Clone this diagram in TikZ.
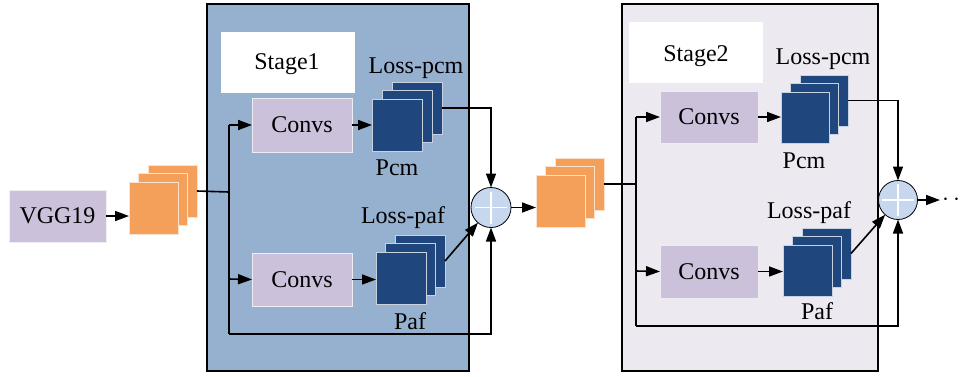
\documentclass[tikz,border=0pt]{standalone}
\usepackage{fontspec}
\setmainfont{Liberation Serif}
\usetikzlibrary{arrows.meta,calc}

\definecolor{stageoneblue}{HTML}{96B0D0}
\definecolor{stagetwogrey}{HTML}{EDE9F1}
\definecolor{convlilac}{HTML}{CBC1DA}
\definecolor{featorange}{HTML}{F5A05A}
\definecolor{mapnavy}{HTML}{1F467D}
\definecolor{sumblue}{HTML}{C6D7EE}

\tikzset{
  stagebox/.style={draw=black, line width=2.5pt},
  titlebox/.style={fill=white, draw=none, inner sep=0pt, outer sep=0pt, anchor=north west},
  convbox/.style={fill=convlilac, draw=white!70!convlilac, line width=0.8pt,
    inner sep=0pt, outer sep=0pt, anchor=north west, font=\fontsize{24}{28}\selectfont},
  orangesheet/.style={fill=featorange, draw=white!70!featorange, line width=0.9pt,
    inner sep=0pt, outer sep=0pt, anchor=north west, minimum width=49pt, minimum height=52pt},
  navysheet/.style={fill=mapnavy, draw=white!75!mapnavy, line width=0.9pt,
    inner sep=0pt, outer sep=0pt, anchor=north west, minimum width=50pt, minimum height=52pt},
  sumnode/.style={circle, fill=sumblue, draw=black, line width=0.8pt,
    minimum size=40pt, inner sep=0pt, outer sep=0pt},
  lbl/.style={font=\fontsize{24}{28}\selectfont, inner sep=0pt, anchor=base},
  wire/.style={line width=1.6pt, black},
  arr/.style={wire, -{Triangle[length=14pt,width=10pt]}},
}

\newcommand{\plussign}[1]{%
  \draw[white, line width=1.6pt] ($(#1)+(-16,0)$) -- ($(#1)+(16,0)$);
  \draw[white, line width=1.6pt] ($(#1)+(0,-16)$) -- ($(#1)+(0,16)$);
}

\begin{document}
\begin{tikzpicture}[x=1pt, y=-1pt]
\useasboundingbox (0,0) rectangle (960,376);

% ---------- stage frames ----------
\fill[stageoneblue] (207,4) rectangle (469,371);
\draw[stagebox] (207,4) rectangle (469,371);
\fill[stagetwogrey] (622,4) rectangle (878,371);
\draw[stagebox] (622,4) rectangle (878,371);

\node[titlebox, minimum width=134pt, minimum height=61pt] (s1title) at (221,32) {};
\node[titlebox, minimum width=134pt, minimum height=61pt] (s2title) at (629,22) {};
\node[lbl] (s1text) at (287,69) {Stage1};
\node[lbl] (s2text) at (696,61) {Stage2};

% ---------- backbone ----------
\node[convbox, minimum width=97pt, minimum height=52pt] (vgg) at (9,190) {VGG19};

% input feature maps
\node[orangesheet] (in1b) at (148,165) {};
\node[orangesheet] (in1m) at (138.5,173.5) {};
\node[orangesheet] (in1f) at (129,182) {};

% ---------- stage 1 ----------
\node[convbox, minimum width=100pt, minimum height=54pt] (c1a) at (252,98) {Convs};
\node[convbox, minimum width=100pt, minimum height=53pt] (c1b) at (252,253) {Convs};

\node[navysheet] (p1b) at (392,82) {};
\node[navysheet] (p1m) at (382,90.5) {};
\node[navysheet] (p1f) at (372,99) {};

\node[navysheet] (f1b) at (395,235) {};
\node[navysheet] (f1m) at (385.5,243.5) {};
\node[navysheet] (f1f) at (376,252) {};

\node[lbl] (lp1) at (416,73) {Loss-pcm};
\node[lbl] (pc1) at (397,175) {Pcm};
\node[lbl] (lf1) at (403,223) {Loss-paf};
\node[lbl] (pa1) at (410,329) {Paf};

\node[sumnode] (sum1) at (491,207.5) {};
\plussign{sum1}

% ---------- features between stages ----------
\node[orangesheet] (in2b) at (555,158) {};
\node[orangesheet] (in2m) at (545.5,166.5) {};
\node[orangesheet] (in2f) at (536,175) {};

% ---------- stage 2 ----------
\node[convbox, minimum width=98pt, minimum height=52pt] (c2a) at (660,91) {Convs};
\node[convbox, minimum width=98pt, minimum height=53pt] (c2b) at (660,245) {Convs};

\node[navysheet, minimum width=48pt, minimum height=51pt] (p2b) at (800,75) {};
\node[navysheet, minimum width=48pt, minimum height=51pt] (p2m) at (790.5,83.5) {};
\node[navysheet, minimum width=48pt, minimum height=51pt] (p2f) at (781,92) {};

\node[navysheet, minimum width=49pt, minimum height=51pt] (f2b) at (802,228) {};
\node[navysheet, minimum width=49pt, minimum height=51pt] (f2m) at (792.5,236.5) {};
\node[navysheet, minimum width=49pt, minimum height=51pt] (f2f) at (783,245) {};

\node[lbl] (lp2) at (823,64) {Loss-pcm};
\node[lbl] (pc2) at (804,168) {Pcm};
\node[lbl] (lf2) at (809,218) {Loss-paf};
\node[lbl] (pa2) at (817,319) {Paf};

\node[sumnode, minimum size=39pt] (sum2) at (898,200) {};
\plussign{sum2}

\coordinate (out) at (940,200);
\node[lbl, anchor=west, inner sep=0pt] (dots) at (942,200) {$\cdot\,\cdot$};

% ---------- connectors: stage 1 ----------
\coordinate (j1) at (229,192);
\coordinate (j1top) at (229,125);
\coordinate (j1mid) at (229,279);
\coordinate (j1bot) at (229,334);

\draw[arr] (vgg.east) -- (vgg.east -| in1f.west);
\draw[wire] (in1b.east) -- (j1);
\draw[wire] (j1top) -- (j1bot);
\draw[arr] (j1top) -- (c1a.west);
\draw[arr] (j1mid) -- (c1b.west);
\draw[arr] (c1a.east) -- (c1a.east -| p1f.west);
\draw[arr] (c1b.east) -- (c1b.east -| f1f.west);
\draw[arr] (p1b.east) -- (p1b.east -| sum1.north) -- (sum1.north);
\draw[arr] (f1b.east) -- (sum1);
\draw[arr] (j1bot) -- (j1bot -| sum1.south) -- (sum1.south);
\draw[arr] (sum1.east) -- (sum1.east -| in2f.west);

% ---------- connectors: stage 2 ----------
\coordinate (j2) at (636,184);
\coordinate (j2top) at (636,117);
\coordinate (j2mid) at (636,271);
\coordinate (j2bot) at (636,326);

\draw[wire] (in2b.east) -- (j2);
\draw[wire] (j2top) -- (j2bot);
\draw[arr] (j2top) -- (c2a.west);
\draw[arr] (j2mid) -- (c2b.west);
\draw[arr] (c2a.east) -- (c2a.east -| p2f.west);
\draw[arr] (c2b.east) -- (c2b.east -| f2f.west);
\draw[arr] (p2b.east) -- (p2b.east -| sum2.north) -- (sum2.north);
\draw[arr] (f2b.east) -- (sum2);
\draw[arr] (j2bot) -- (j2bot -| sum2.south) -- (sum2.south);
\draw[arr] (sum2.east) -- (out);
\end{tikzpicture}
\end{document}
